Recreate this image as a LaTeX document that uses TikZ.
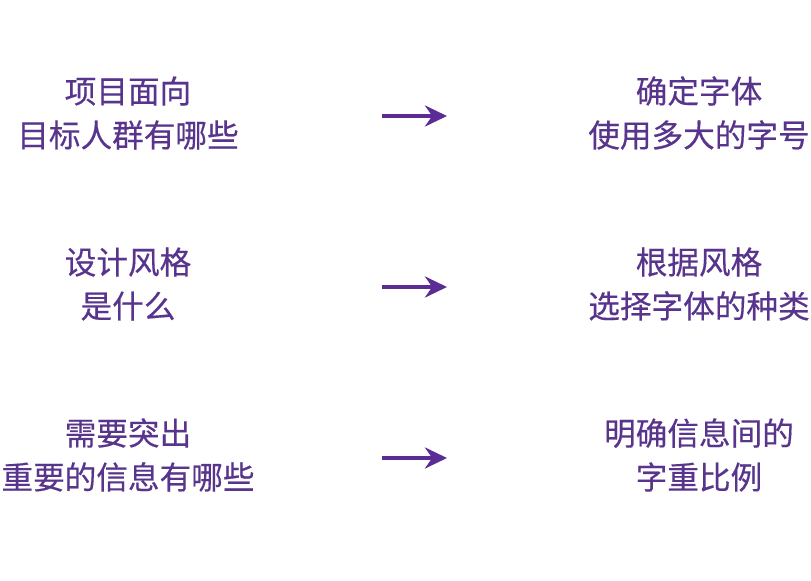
\documentclass[tikz,border=0pt]{standalone}
\usepackage{fontspec}
\newfontfamily\cjk[FakeBold=0.4]{Noto Sans CJK SC}
\usetikzlibrary{arrows.meta}
\definecolor{txtpurple}{RGB}{88,52,140}
\definecolor{arrpurple}{RGB}{92,44,150}

\begin{document}
\begin{tikzpicture}[
  goal/.style={font=\cjk\fontsize{9}{12.5}\selectfont, text=txtpurple, align=center, inner sep=0pt},
  leadsto/.style={-{Stealth[length=2.2mm,width=2.1mm]}, line width=1.05pt, draw=arrpurple}
]
  % fix the page to the reference size
  \useasboundingbox (0,0) rectangle (8.11,5.80);

  % questions on the left
  \node[goal] (q1) at (1.28,4.67) {项目面向\\目标人群有哪些};
  \node[goal] (q2) at (1.28,2.96) {设计风格\\是什么};
  \node[goal] (q3) at (1.28,1.25) {需要突出\\重要的信息有哪些};

  % answers on the right
  \node[goal] (a1) at (6.99,4.67) {确定字体\\使用多大的字号};
  \node[goal] (a2) at (6.99,2.96) {根据风格\\选择字体的种类};
  \node[goal] (a3) at (6.99,1.25) {明确信息间的\\字重比例};

  % arrow ends between the columns
  \coordinate (s1) at (3.82,4.64);
  \coordinate (e1) at (4.47,4.64);
  \coordinate (s2) at (3.82,2.93);
  \coordinate (e2) at (4.47,2.93);
  \coordinate (s3) at (3.82,1.22);
  \coordinate (e3) at (4.47,1.22);

  \foreach \i in {1,2,3}
  \draw[leadsto] (s\i) -- (e\i);
\end{tikzpicture}
\end{document}
